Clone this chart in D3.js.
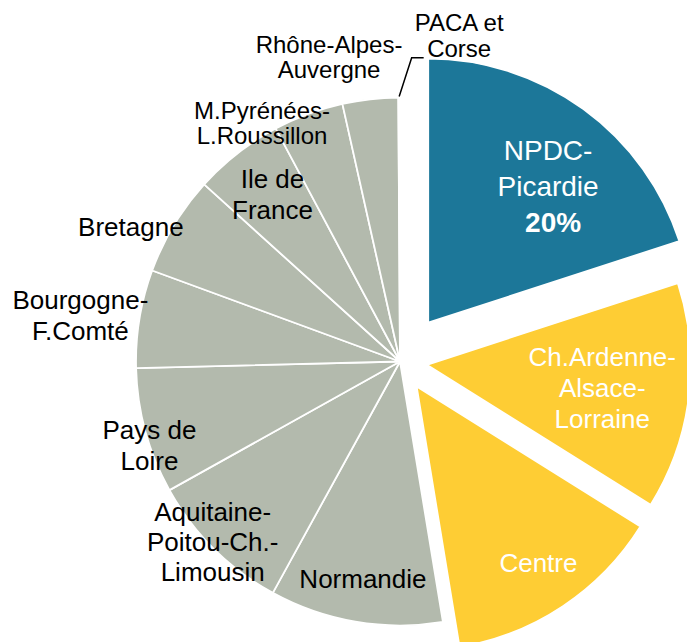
<!DOCTYPE html>
<html>
<head>
<meta charset="utf-8">
<script src="https://cdn.jsdelivr.net/npm/d3@7"></script>
<style>
body { margin: 0; background: #fff; }
text { font-family: "Liberation Sans", Arial, sans-serif; }
</style>
</head>
<body>
<svg id="chart"></svg>
<script>
// regions, clockwise from 12 o'clock
const regions = [
    "NPDC-Picardie", "Ch.Ardenne-Alsace-Lorraine", "Centre", "Normandie",
    "Aquitaine-Poitou-Ch.-Limousin", "Pays de Loire", "Bourgogne-F.Comté",
    "Bretagne", "Ile de France", "M.Pyrénées-L.Roussillon",
    "Rhône-Alpes-Auvergne", "PACA et Corse"
];
const shares = [20, 13.9, 13.5, 10.6, 8.9, 7.7, 6.0, 6.1, 5.5, 4.3, 3.4, 0.1];
const groups = ["first", "next", "next", "rest", "rest", "rest", "rest", "rest", "rest", "rest", "rest", "rest"];
const labelLines = [
    ["NPDC-", "Picardie"],
    ["Ch.Ardenne-", "Alsace-", "Lorraine"],
    ["Centre"],
    ["Normandie"],
    ["Aquitaine-", "Poitou-Ch.-", "Limousin"],
    ["Pays de", "Loire"],
    ["Bourgogne-", "F.Comté"],
    ["Bretagne"],
    ["Ile de", "France"],
    ["M.Pyrénées-", "L.Roussillon"],
    ["Rhône-Alpes-", "Auvergne"],
    ["PACA et", "Corse"]
];
const shownPercent = ["NPDC-Picardie"];

const chartSize = { width: 687, height: 642 };
const center = { x: 400, y: 361.5 };
const radius = 264;
const explode = { "NPDC-Picardie": 48, "Ch.Ardenne-Alsace-Lorraine": 27, "Centre": 30 };

// label placement: angle (deg, clockwise from top) and distance from the slice's own centre
const labelLayout = [
    { a: 41.2, r: 182, size: 28, lh: 36 },
    { a: 97.5, r: 177, size: 26, lh: 31 },
    { a: 145.3, r: 214, size: 26, lh: 31 },
    { a: 189.7, r: 220, size: 26, lh: 31 },
    { a: 226.1, r: 260, size: 26, lh: 30 },
    { a: 251.6, r: 264, size: 26, lh: 31 },
    { a: 278.3, r: 323, size: 26, lh: 31 },
    { a: 296.6, r: 301, size: 26, lh: 31 },
    { a: 322.6, r: 210, size: 26, lh: 31 },
    { a: 330, r: 276, size: 24, lh: 25 },
    { a: 346.9, r: 313, size: 24, lh: 25 },
    { a: 10.3, r: 331, size: 24, lh: 26 }
];

const color = d3.scaleOrdinal()
    .domain(["first", "next", "rest"])
    .range(["#1c7799", "#fecd34", "#b3baad"]);
const textColor = d3.scaleOrdinal()
    .domain(["first", "next", "rest"])
    .range(["#fff", "#fff", "#000"]);

const rad = deg => deg * Math.PI / 180;
const polar = (angle, r) => [r * Math.sin(angle), -r * Math.cos(angle)];

const data = regions.map((name, i) => ({ name, share: shares[i], group: groups[i], lines: labelLines[i], layout: labelLayout[i] }));

const svg = d3.select("#chart")
    .attr("width", chartSize.width)
    .attr("height", chartSize.height);

const g = svg.append("g")
    .attr("transform", `translate(${center.x},${center.y})`);

const pie = d3.pie().sort(null).value(d => d.share);
const arc = d3.arc().innerRadius(0).outerRadius(radius);

const arcs = pie(data);

const sliceShift = d => {
    const off = explode[d.data.name] || 0;
    const [x, y] = polar((d.startAngle + d.endAngle) / 2, off);
    return `translate(${x},${y})`;
};

g.append("g").attr("class", "slices")
    .selectAll("path")
    .data(arcs)
    .enter().append("path")
    .attr("transform", sliceShift)
    .attr("d", arc)
    .attr("fill", d => color(d.data.group))
    .attr("stroke", "#fff")
    .attr("stroke-width", 1.8)
    .attr("stroke-linejoin", "round");

// leader line for the tiny last slice
const last = arcs[arcs.length - 1];
const lastMid = (last.startAngle + last.endAngle) / 2;
const p0 = polar(lastMid, radius + 1);
const p1 = polar(rad(2.2), 304);
const p2 = [p1[0] + 12, p1[1]];
g.append("polyline")
    .attr("points", [p0, p1, p2].map(p => p.join(",")).join(" "))
    .attr("fill", "none")
    .attr("stroke", "#000")
    .attr("stroke-width", 1.5);

const labels = g.append("g").attr("class", "labels")
    .selectAll("text")
    .data(arcs)
    .enter().append("text")
    .attr("transform", sliceShift)
    .attr("text-anchor", "middle")
    .attr("font-size", d => d.data.layout.size)
    .attr("fill", d => textColor(d.data.group));

labels.each(function (d) {
    const lay = d.data.layout;
    const [lx, ly] = polar(rad(lay.a), lay.r);
    const lines = d.data.lines.slice();
    const withPct = shownPercent.includes(d.data.name);
    if (withPct) lines.push(d3.format(".0f")(d.data.share) + "%");
    const n = lines.length;
    lines.forEach((line, i) => {
        const isPct = withPct && i === n - 1;
        d3.select(this).append("tspan")
            .attr("x", lx + (isPct ? 5 : 0))
            .attr("y", ly + (i - (n - 1) / 2) * lay.lh + 0.358 * lay.size)
            .attr("font-weight", isPct ? "bold" : null)
            .text(line);
    });
});
</script>
</body>
</html>
